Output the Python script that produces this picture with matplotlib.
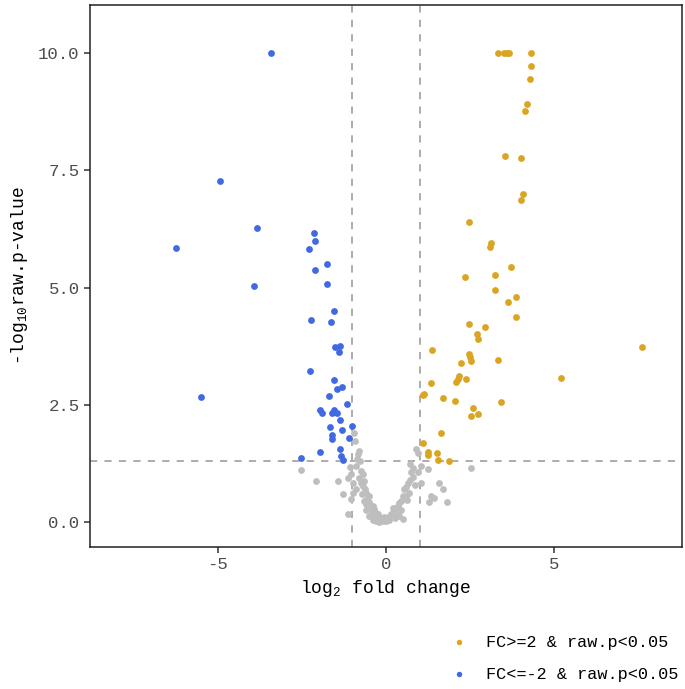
import matplotlib.pyplot as plt

plt.rcParams['font.family'] = ['Liberation Mono', 'DejaVu Sans Mono']

# log2 fold change / -log10 p for each group
up_x = [3.33, 3.50, 3.59, 3.67, 4.32, 4.30, 4.28, 4.18, 4.14, 3.55, 4.01, 4.07, 4.01,
        2.46, 3.12, 3.08, 3.71, 2.35, 3.25, 3.24, 3.87, 3.64, 3.86, 2.48, 2.93, 2.72,
        2.75, 1.38, 7.60, 2.48, 2.51, 2.54, 2.24, 3.33, 2.18, 2.14, 2.07, 2.37, 5.19,
        1.34, 1.13, 1.10, 1.70, 2.05, 3.42, 2.59, 2.73, 2.52, 1.63, 1.10, 1.26, 1.26,
        1.51, 1.54, 1.88]
up_y = [10.0, 10.0, 10.0, 10.0, 10.0, 9.71, 9.44, 8.91, 8.76, 7.81, 7.75, 6.99, 6.87,
        6.39, 5.95, 5.86, 5.43, 5.22, 5.26, 4.95, 4.79, 4.70, 4.38, 4.22, 4.16, 4.00,
        3.90, 3.67, 3.73, 3.58, 3.51, 3.44, 3.39, 3.46, 3.11, 3.05, 2.98, 3.06, 3.07,
        2.96, 2.74, 2.71, 2.65, 2.58, 2.57, 2.44, 2.31, 2.26, 1.90, 1.68, 1.49, 1.42,
        1.47, 1.32, 1.31]

down_x = [-3.42, -4.95, -3.84, -2.13, -2.12, -6.23, -2.30, -1.75, -2.10, -1.74, -3.91,
          -1.54, -2.24, -1.64, -1.52, -1.36, -1.39, -2.27, -1.55, -1.31, -1.46, -5.49,
          -1.69, -1.15, -1.97, -1.89, -1.54, -1.60, -1.46, -1.38, -1.65, -1.32, -1.02,
          -1.62, -1.09, -1.60, -1.96, -1.37, -1.34, -1.28, -2.52]
down_y = [10.0, 7.26, 6.26, 6.16, 6.00, 5.85, 5.82, 5.50, 5.38, 5.08, 5.04,
          4.50, 4.31, 4.27, 3.74, 3.76, 3.63, 3.23, 3.02, 2.88, 2.84, 2.66,
          2.68, 2.52, 2.39, 2.33, 2.40, 2.32, 2.32, 2.18, 2.03, 1.96, 2.04,
          1.86, 1.80, 1.78, 1.49, 1.55, 1.41, 1.32, 1.37]

ns_x = [-0.94, -0.92, -0.81, -0.86, -2.52, -2.09, -1.42, -1.29, -1.14, -1.07, -1.04,
        -1.14, -0.74, -0.69, -0.99, -0.74, -0.69, -0.59, -0.99, -1.04, -0.50, -0.64,
        -0.50, -0.45, -0.35, -0.50, -0.25, -0.15, -0.30, -0.05, -0.80, -0.62, -0.55,
        -0.40, -0.30, -0.20, -0.42, -0.35, -0.10, -0.20, -0.88, -0.78, -0.66, -0.58,
        -0.45, -0.90, -0.84, -0.72, -0.60, -0.38,
        0.89, 0.94, 1.04, 1.24, 0.72, 2.54, 0.94, 0.64, 1.04, 1.58, 1.70, 1.34, 1.44,
        1.29, 1.80, 0.54, 0.59, 0.45, 0.35, 0.25, 0.15, 0.05, 0.50, 0.74, 0.79, 0.70,
        0.60, 0.40, 0.30, 0.20, 0.10, 0.00, 0.45, 0.35, 0.28, 0.80, 0.68, 0.50, 0.85,
        0.62, 0.38, 0.22]
ns_y = [1.89, 1.73, 1.52, 1.34, 1.11, 0.87, 0.88, 0.61, 0.18, 1.18, 1.02,
        0.95, 1.09, 1.02, 0.84, 0.84, 0.77, 0.63, 0.63, 0.49, 0.56, 0.45,
        0.42, 0.31, 0.28, 0.13, 0.17, 0.06, 0.03, 0.10, 0.95, 0.70, 0.50,
        0.35, 0.20, 0.10, 0.20, 0.10, 0.02, 0.00, 1.20, 1.30, 0.88, 0.38,
        0.12, 0.70, 1.45, 0.60, 0.25, 0.05,
        1.55, 1.48, 1.20, 1.13, 1.23, 1.16, 1.06, 0.84, 0.84, 0.84, 0.70, 0.56, 0.52,
        0.43, 0.42, 0.70, 0.56, 0.45, 0.35, 0.24, 0.17, 0.10, 0.06, 1.06, 0.96, 0.90,
        0.75, 0.40, 0.30, 0.20, 0.05, 0.02, 0.25, 0.15, 0.08, 1.15, 0.62, 0.55, 0.80,
        0.48, 0.12, 0.30]

fig = plt.figure(figsize=(6.85, 6.89), dpi=100)
ax = fig.add_axes([0.1314, 0.2061, 0.8642, 0.7866])

ax.scatter(ns_x, ns_y, s=24, color='#BEBEBE', linewidths=0, zorder=2)
ax.scatter(up_x, up_y, s=24, color='#DAA520', linewidths=0, zorder=3,
           label='FC>=2 & raw.p<0.05')
ax.scatter(down_x, down_y, s=24, color='#4169E1', linewidths=0, zorder=3,
           label='FC<=-2 & raw.p<0.05')

# thresholds
for v in [-1, 1]:
    ax.axvline(v, color='#A6A6A6', linestyle=(0, (4, 4)), linewidth=1.3, zorder=1)
ax.axhline(1.301, color='#A6A6A6', linestyle=(0, (4, 4)), linewidth=1.3, zorder=1)

ax.set_xlim(-8.8, 8.8)
ax.set_ylim(-0.53, 11.02)
ax.set_xticks([-5, 0, 5])
ax.set_xticklabels(['-5', '0', '5'])
ax.set_yticks([0, 2.5, 5, 7.5, 10])
ax.set_yticklabels(['0.0', '2.5', '5.0', '7.5', '10.0'])
ax.tick_params(direction='out', length=4, width=1.1, color='#333333',
               labelcolor='#4D4D4D', labelsize=12.5)
for sp in ax.spines.values():
    sp.set_linewidth(1.1)
    sp.set_color('#222222')

ax.set_xlabel(r'log$\mathregular{_2}$ fold change', fontsize=13, labelpad=4)
ax.set_ylabel(r'-log$\mathregular{_{10}}$raw.p-value', fontsize=13, labelpad=6)

fig.legend(loc='upper left', bbox_to_anchor=(0.633, 0.091), frameon=False,
           fontsize=12.2, markerscale=0.8, handletextpad=0.6, labelspacing=1.0,
           borderpad=0)

fig.savefig('out.png', dpi=100)
